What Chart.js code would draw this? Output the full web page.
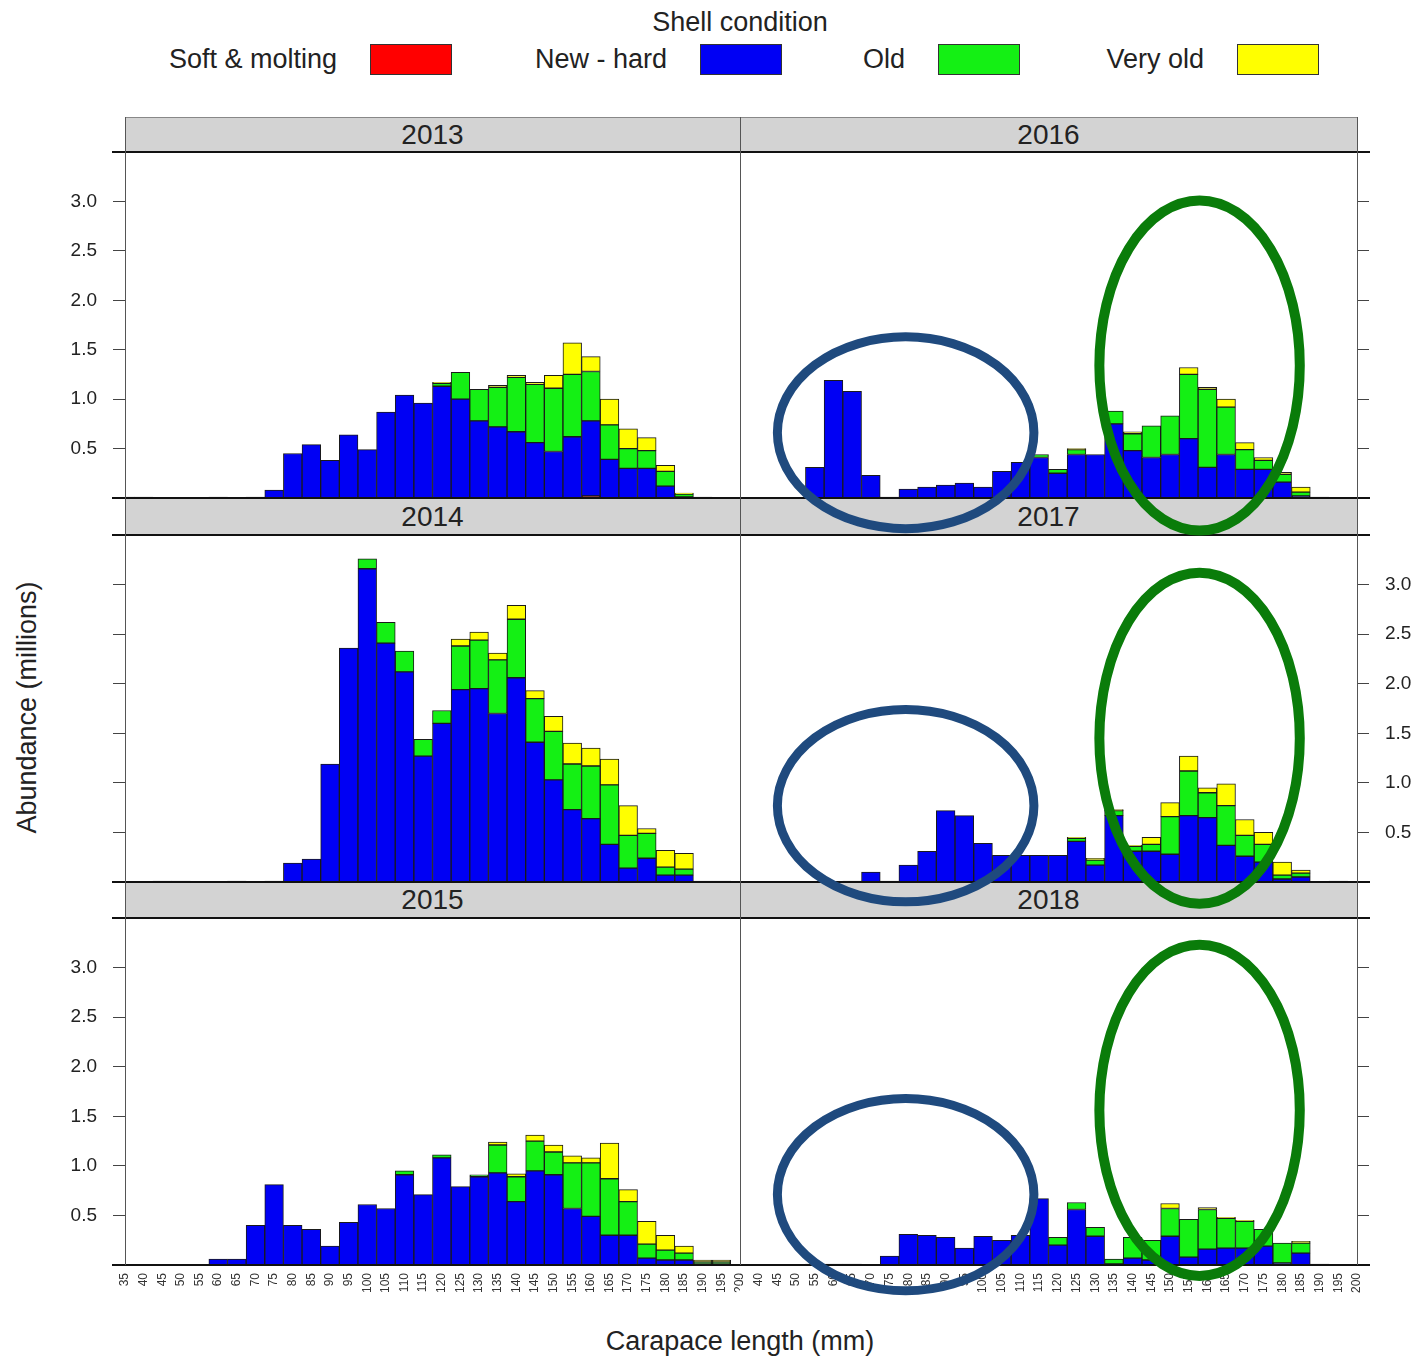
<!DOCTYPE html>
<html>
<head>
<meta charset="utf-8">
<title>Shell condition by carapace length</title>
<script src="https://cdn.jsdelivr.net/npm/chart.js@4.4.1/dist/chart.umd.min.js"></script>
<style>
  html, body { margin: 0; padding: 0; background: #fff; }
  #page { position: relative; width: 1422px; height: 1359px; overflow: hidden;
          font-family: 'Liberation Sans', Arial, sans-serif; color: #222; }
  #page canvas { position: absolute; }
  .strip { position: absolute; background: #d3d3d3; text-align: center; font-size: 28px; }
  .line { position: absolute; }
  .legend-text { position: absolute; font-size: 27px; line-height: 31px; top: 44px; white-space: nowrap; }
  .legend-box { position: absolute; top: 44px; width: 80px; height: 29px; border: 1px solid #333; }
  .title { position: absolute; font-size: 27px; white-space: nowrap; }
</style>
</head>
<body>
<div id="page">
  <div class="title" style="left:540px; width:400px; text-align:center; top:7px;">Shell condition</div>
  <div id="legend"></div>
  <div class="title" style="left:440px; width:600px; text-align:center; top:1326px;">Carapace length (mm)</div>
  <div class="title" style="left:-273px; width:600px; text-align:center; top:692px; transform: rotate(-90deg);">Abundance (millions)</div>
  <canvas id="overlay" width="1422" height="1359" style="left:0; top:0; z-index:10; pointer-events:none;"></canvas>
</div>
<script>
// Longueurs de carapace (centre des classes de 5 mm)
const lengths = [35, 40, 45, 50, 55, 60, 65, 70, 75, 80, 85, 90, 95, 100, 105, 110, 115, 120,
                 125, 130, 135, 140, 145, 150, 155, 160, 165, 170, 175, 180, 185, 190, 195, 200];
const yTicks = [0.5, 1.0, 1.5, 2.0, 2.5, 3.0];
const seriesNames = ['Soft & molting', 'New - hard', 'Old', 'Very old'];
const seriesColors = ['#ff0000', '#0000f4', '#14f014', '#ffff00'];

// Abondance (millions) par classe de taille, une liste par condition de carapace et par année
const soft2013 = [0,0,0,0,0,0,0,0,0,0, 0,0,0,0,0,0,0,0,0,0, 0,0,0,0,0,0.02,0,0,0,0, 0,0,0,0];
const hard2013 = [0.01,0.01,0,0,0,0.01,0,0.01,0.08,0.45, 0.54,0.38,0.64,0.49,0.87,1.04,0.96,1.13,1.00,0.78,
                  0.72,0.67,0.56,0.47,0.62,0.76,0.39,0.30,0.30,0.12, 0.01,0.01,0,0];
const old2013  = [0,0,0,0,0,0,0,0,0,0, 0,0,0,0,0,0,0,0.03,0.27,0.32,
                  0.40,0.55,0.59,0.64,0.63,0.50,0.35,0.20,0.18,0.15, 0.03,0,0,0];
const vold2013 = [0,0,0,0,0,0,0,0,0,0, 0,0,0,0,0,0,0,0.01,0,0,
                  0.02,0.02,0.02,0.13,0.32,0.15,0.26,0.20,0.13,0.06, 0.01,0,0,0];

const soft2014 = [0,0,0,0,0,0,0,0,0,0, 0,0,0,0,0,0,0,0,0,0, 0,0,0,0,0,0,0,0,0,0, 0,0,0,0];
const hard2014 = [0,0,0.01,0.01,0,0,0.01,0,0.01,0.19, 0.23,1.19,2.36,3.16,2.41,2.12,1.27,1.60,1.94,1.95,
                  1.70,2.06,1.41,1.03,0.73,0.64,0.38,0.14,0.24,0.07, 0.07,0.01,0.01,0];
const old2014  = [0,0,0,0,0,0,0,0,0,0, 0,0,0,0.10,0.21,0.21,0.17,0.13,0.44,0.49,
                  0.54,0.59,0.44,0.49,0.46,0.53,0.60,0.33,0.25,0.08, 0.06,0,0,0];
const vold2014 = [0,0,0,0,0,0,0,0,0,0, 0,0,0,0,0,0,0,0,0.07,0.08,
                  0.07,0.14,0.08,0.15,0.21,0.18,0.26,0.30,0.05,0.17, 0.16,0,0,0];

const soft2015 = [0,0,0,0,0,0,0,0,0,0, 0,0,0,0,0,0,0,0,0,0, 0,0,0,0,0,0,0,0,0,0, 0,0,0,0];
const hard2015 = [0,0,0,0,0,0.06,0.06,0.40,0.81,0.40, 0.36,0.19,0.43,0.61,0.57,0.91,0.71,1.08,0.79,0.89,
                  0.93,0.64,0.95,0.91,0.57,0.49,0.30,0.30,0.07,0.05, 0.05,0.01,0.01,0];
const old2015  = [0,0,0,0,0,0,0,0,0,0, 0,0,0,0,0,0.04,0,0.03,0,0.02,
                  0.28,0.25,0.30,0.23,0.46,0.54,0.57,0.34,0.14,0.10, 0.07,0.02,0.02,0];
const vold2015 = [0,0,0,0,0,0,0,0,0,0, 0,0,0,0,0,0,0,0,0,0,
                  0.03,0.03,0.06,0.07,0.07,0.05,0.36,0.12,0.23,0.15, 0.07,0.02,0.02,0];

const soft2016 = [0,0,0,0,0,0,0,0,0,0, 0,0,0,0,0,0,0,0,0,0, 0,0,0,0,0,0,0,0,0,0, 0,0,0,0];
const hard2016 = [0,0,0,0,0.31,1.19,1.08,0.23,0.01,0.09, 0.11,0.13,0.15,0.11,0.27,0.36,0.41,0.25,0.44,0.44,
                  0.75,0.48,0.41,0.44,0.60,0.31,0.44,0.29,0.29,0.16, 0.02,0.01,0,0];
const old2016  = [0,0,0,0,0,0,0,0,0,0, 0,0,0,0,0,0,0.03,0.04,0.05,0,
                  0.13,0.17,0.32,0.39,0.65,0.79,0.48,0.20,0.09,0.08, 0.04,0,0,0];
const vold2016 = [0,0,0,0,0,0,0,0,0,0, 0,0,0,0,0,0,0,0,0.01,0,
                  0,0.02,0,0,0.07,0.02,0.08,0.07,0.03,0.02, 0.05,0,0,0];

const soft2017 = [0,0,0,0,0,0,0,0,0,0, 0,0,0,0,0,0,0,0,0,0, 0,0,0,0,0,0,0,0,0,0, 0,0,0,0];
const hard2017 = [0,0,0,0,0,0,0.01,0.10,0.01,0.17, 0.31,0.72,0.67,0.39,0.27,0.27,0.27,0.27,0.41,0.17,
                  0.67,0.31,0.31,0.28,0.67,0.65,0.37,0.26,0.20,0.03, 0.05,0,0.01,0];
const old2017  = [0,0,0,0,0,0,0,0,0,0, 0,0,0,0,0,0,0,0,0.03,0.05,
                  0.05,0.05,0.07,0.38,0.45,0.25,0.40,0.21,0.18,0.04, 0.04,0,0,0];
const vold2017 = [0,0,0,0,0,0,0,0,0,0, 0,0,0,0,0,0,0,0,0.01,0.02,
                  0.01,0.01,0.07,0.14,0.15,0.05,0.22,0.16,0.12,0.13, 0.03,0,0,0];

const soft2018 = [0,0,0,0,0,0,0,0,0,0, 0,0,0,0,0,0,0,0,0,0, 0,0,0,0,0,0,0,0,0,0, 0,0,0,0];
const hard2018 = [0,0,0,0,0.01,0.01,0.01,0,0.09,0.31, 0.30,0.28,0.17,0.29,0.25,0.30,0.67,0.20,0.56,0.29,
                  0.01,0.07,0.05,0.29,0.08,0.16,0.17,0.17,0.19,0.02, 0.12,0.01,0,0];
const old2018  = [0,0,0,0,0,0,0,0,0,0, 0,0,0,0,0,0,0,0.08,0.07,0.09,
                  0.05,0.21,0.20,0.28,0.38,0.40,0.30,0.27,0.17,0.20, 0.10,0,0,0];
const vold2018 = [0,0,0,0,0,0,0,0,0,0, 0,0,0,0,0,0,0,0,0,0,
                  0,0,0,0.05,0,0.02,0.01,0.01,0,0, 0.02,0,0,0];

// Panneaux : colonne gauche 2013-2015, colonne droite 2016-2018
const panels = [
  { year: 2013, col: 0, row: 0, series: [soft2013, hard2013, old2013, vold2013] },
  { year: 2014, col: 0, row: 1, series: [soft2014, hard2014, old2014, vold2014] },
  { year: 2015, col: 0, row: 2, series: [soft2015, hard2015, old2015, vold2015] },
  { year: 2016, col: 1, row: 0, series: [soft2016, hard2016, old2016, vold2016] },
  { year: 2017, col: 1, row: 1, series: [soft2017, hard2017, old2017, vold2017] },
  { year: 2018, col: 1, row: 2, series: [soft2018, hard2018, old2018, vold2018] },
];

// Géométrie de la grille (pixels)
const colLeft = [125, 740], colRight = [740, 1357];
const stripTop = [117, 498, 882], rowTop = [152, 535, 918], rowBottom = [498, 882, 1265];

// Ellipses d'annotation (en unités des données) : bleue = petits crabes, verte = grands crabes
const rings = [
  { mm: 79.3, halfMM: 34.3, halfY: 0.97, color: '#1f4a7e', width: 9 },
  { mm: 157.9, halfMM: 26.8, halfY: 1.67, color: '#0a7c0a', width: 10 },
];
const ringCentreY = { 2016: [0.66, 1.34], 2017: [0.77, 1.45], 2018: [0.71, 1.56] };

Chart.defaults.font.family = "'Liberation Sans', Arial, sans-serif";
Chart.defaults.color = '#222';

const page = document.getElementById('page');

function addDiv(cls, style, text) {
  const d = document.createElement('div');
  d.className = cls;
  Object.assign(d.style, style);
  if (text) d.textContent = text;
  page.appendChild(d);
  return d;
}

// Légende
const legendTextRight = [337, 667, 905, 1204];
const legendBoxLeft = [370, 700, 938, 1237];
seriesNames.forEach((name, k) => {
  addDiv('legend-text', { right: (1422 - legendTextRight[k]) + 'px' }, name);
  addDiv('legend-box', { left: legendBoxLeft[k] + 'px', background: seriesColors[k] });
});

function yAxis(side, showLabels) {
  return {
    type: 'linear', position: side, min: 0, max: 3.5, stacked: true,
    afterBuildTicks: s => { s.ticks = yTicks.map(v => ({ value: v })); },
    afterFit: s => { s.width = side === 'left' ? 95 : 65; s.paddingTop = 0; s.paddingBottom = 0; },
    grid: { drawOnChartArea: false, drawTicks: true, tickLength: 12, color: '#444', lineWidth: 1 },
    border: { display: true, color: '#555', width: 1 },
    ticks: { display: showLabels, padding: 16, color: '#222', font: { size: 19 },
             callback: v => Number(v).toFixed(1) },
  };
}

function xAxis(showLabels) {
  const axis = {
    type: 'category', offset: false, stacked: true, display: showLabels,
    grid: { display: false, drawTicks: false }, border: { display: false },
    ticks: { autoSkip: false, minRotation: 90, maxRotation: 90, padding: 8, color: '#333', font: { size: 12 } },
  };
  if (showLabels) {
    axis.afterFit = s => { s.height = 55; s.paddingLeft = 0; s.paddingRight = 0; };
  }
  return axis;
}

const charts = [];
panels.forEach(p => {
  const bottomRow = p.row === 2;
  const left = p.col === 0 ? 30 : 740;
  const width = p.col === 0 ? 710 : 682;
  const top = rowTop[p.row];
  const height = rowBottom[p.row] - top + (bottomRow ? 55 : 0);

  const canvas = document.createElement('canvas');
  canvas.width = width;
  canvas.height = height;
  canvas.style.left = left + 'px';
  canvas.style.top = top + 'px';
  page.insertBefore(canvas, document.getElementById('overlay'));

  const showY = (p.col === 0 && p.row !== 1) || (p.col === 1 && p.row === 1);
  const chart = new Chart(canvas, {
    type: 'bar',
    data: {
      labels: lengths,
      datasets: p.series.map((values, k) => ({
        label: seriesNames[k],
        data: values,
        backgroundColor: seriesColors[k],
        borderColor: '#1a1a1a',
        borderWidth: 1,
        borderSkipped: false,
        barPercentage: 1,
        categoryPercentage: 1,
        clip: 0,
      })),
    },
    options: {
      responsive: false,
      animation: false,
      layout: { padding: 0 },
      plugins: { legend: { display: false }, tooltip: { enabled: false } },
      scales: {
        x: xAxis(bottomRow),
        y: yAxis(p.col === 0 ? 'left' : 'right', showY),
      },
    },
  });
  charts.push({ chart, year: p.year, left, top });

  // Bandeau de l'année
  addDiv('strip', {
    left: colLeft[p.col] + 'px', width: (colRight[p.col] - colLeft[p.col]) + 'px',
    top: stripTop[p.row] + 'px', height: (rowTop[p.row] - stripTop[p.row]) + 'px',
    lineHeight: (rowTop[p.row] - stripTop[p.row]) + 'px',
  }, String(p.year));
});

// Cadres des panneaux
addDiv('line', { left: '125px', width: '1232px', top: '117px', height: '1px', background: '#888' });
[...rowTop, ...rowBottom].forEach(y => {
  addDiv('line', { left: '112px', width: '1258px', top: (y - 1) + 'px', height: '2px', background: '#111' });
});
[125, 740, 1357].forEach(x => {
  addDiv('line', { left: x + 'px', width: '1px', top: '117px', height: '1148px', background: '#555' });
});

// Ellipses dessinées sur une toile superposée, positionnées via les échelles de chaque graphique
function drawRings() {
  const ctx = document.getElementById('overlay').getContext('2d');
  charts.forEach(({ chart, year, left, top }) => {
    const centres = ringCentreY[year];
    if (!centres) return;
    const xs = chart.scales.x, ys = chart.scales.y;
    const pxPerMM = (xs.getPixelForValue(1) - xs.getPixelForValue(0)) / 5;
    const pxPerUnit = ys.getPixelForValue(0) - ys.getPixelForValue(1);
    rings.forEach((ring, k) => {
      const cx = left + xs.getPixelForValue((ring.mm - 35) / 5);
      const cy = top + ys.getPixelForValue(centres[k]);
      ctx.beginPath();
      ctx.ellipse(cx, cy, ring.halfMM * pxPerMM, ring.halfY * pxPerUnit, 0, 0, Math.PI * 2);
      ctx.lineWidth = ring.width;
      ctx.strokeStyle = ring.color;
      ctx.stroke();
    });
  });
}
drawRings();
</script>
</body>
</html>
